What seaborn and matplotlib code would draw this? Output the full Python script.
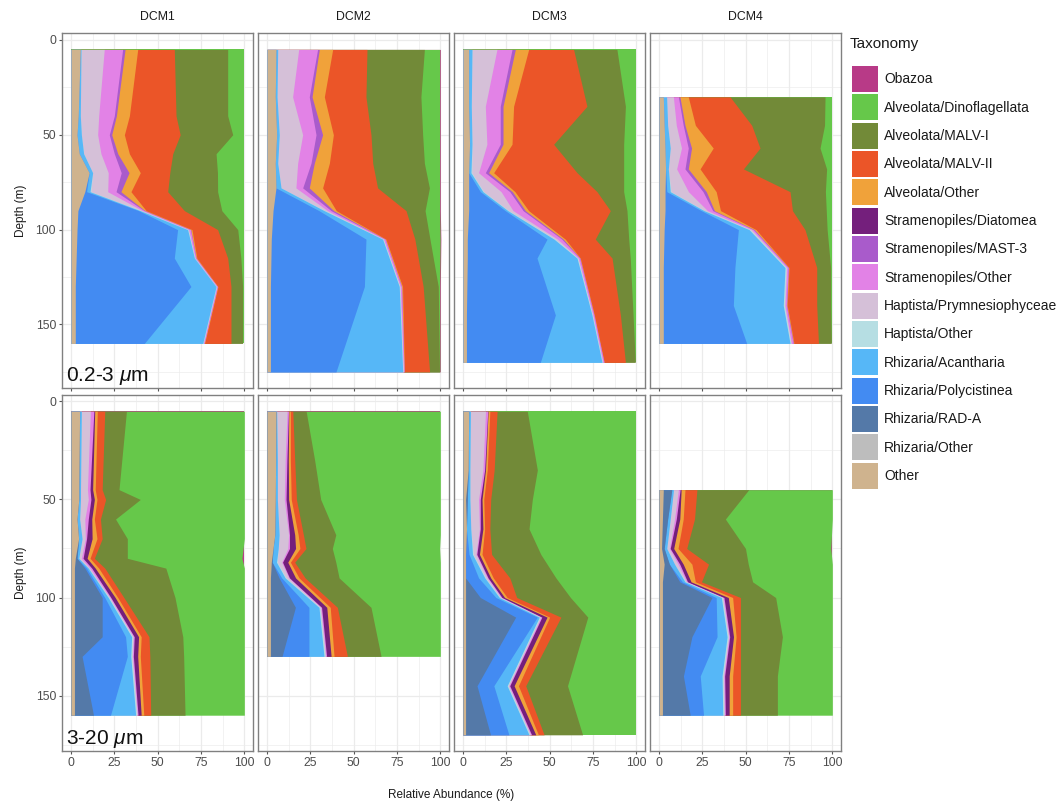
import numpy as np
import matplotlib
matplotlib.use("Agg")
import matplotlib.pyplot as plt
from matplotlib.patches import Patch
import seaborn as sns

# ---------------- data ----------------
taxa = ["Other", "Rhizaria/Other", "Rhizaria/RAD-A", "Rhizaria/Polycistinea",
        "Rhizaria/Acantharia", "Haptista/Other", "Haptista/Prymnesiophyceae",
        "Stramenopiles/Other", "Stramenopiles/MAST-3", "Stramenopiles/Diatomea",
        "Alveolata/Other", "Alveolata/MALV-II", "Alveolata/MALV-I",
        "Alveolata/Dinoflagellata", "Obazoa"]
taxa_colors = ["#CFB38E", "#BDBDBD", "#5479A8", "#438BF2", "#56B7F7", "#B6DEE3",
               "#D5C0D8", "#E282E6", "#A95BCB", "#741F7C", "#F0A23A", "#EB5528",
               "#728A38", "#66C84A", "#B83A87"]
stations = ["DCM1", "DCM2", "DCM3", "DCM4"]
size_labels = ["0.2-3 $\\mu$m", "3-20 $\\mu$m"]

# 0.2-3 um fraction (rows = depths, columns = taxa order above, %)
dcm1_small_depth = [5, 40, 50, 60, 70, 80, 90, 100, 115, 130, 160]
dcm1_small = [
    [5.4, 0, 0, 0, 0.4, 0, 13.4, 10.6, 1.4, 0, 7.3, 21.1, 30.8, 9.2, 0.4],
    [4.2, 0, 0, 0, 1.2, 0, 10.6, 9, 1.2, 0, 7.5, 26.9, 29.8, 9.2, 0.4],
    [3.5, 0, 0, 0, 2.5, 0, 9.4, 6.7, 1.4, 0, 7.3, 32.2, 30.3, 6.3, 0.4],
    [4.8, 0, 0, 0, 2.5, 0, 10, 7.7, 2, 0, 6.7, 25, 25, 15.9, 0.4],
    [10.5, 0, 0, 0, 2, 0, 9, 7.5, 4.5, 0, 6.5, 17, 27.5, 15.1, 0.4],
    [8, 0, 0, 1, 2, 0.5, 9.7, 4.8, 2.8, 0, 5.8, 21.2, 28.8, 15, 0.4],
    [4, 0, 0, 35, 1, 0.5, 0.8, 1, 0.3, 0, 0.8, 22, 21.6, 12.6, 0.4],
    [3.5, 0, 0, 58, 5.8, 0.3, 0.3, 1, 0.2, 0, 0.7, 14.8, 11.6, 3.4, 0.4],
    [3, 0, 0, 56.6, 11.6, 0.2, 0.2, 0.5, 0.1, 0, 0.4, 17.8, 7.6, 1.6, 0.4],
    [2.5, 0, 0, 66.7, 14.5, 0.2, 0.1, 0.5, 0, 0, 0.3, 7.5, 6.7, 0.6, 0.4],
    [2.5, 0, 0, 39.8, 33.7, 0.2, 0.2, 0.4, 0, 0, 0.3, 15.2, 6.7, 0.6, 0.4],
]
dcm2_small_depth = [5, 30, 50, 65, 78, 90, 105, 130, 175]
dcm2_small = [
    [5.2, 0, 0, 0, 1, 0, 12.1, 10.9, 1, 0, 7.7, 19.8, 33.1, 8.8, 0.4],
    [4.8, 0, 0, 0, 1, 0, 9, 9.6, 1.6, 0, 7.1, 24, 31.7, 10.8, 0.4],
    [5.6, 0, 0, 0, 1.5, 0, 13.5, 7.7, 3.8, 0, 6.2, 21.7, 29.8, 9.8, 0.4],
    [4.8, 0, 0, 0, 1.4, 0, 11.5, 7.7, 1.9, 0, 8.7, 25, 29.8, 8.8, 0.4],
    [5.2, 0, 0, 0, 2.9, 0, 8.6, 3.9, 3.8, 0, 7.7, 31.7, 29.9, 5.9, 0.4],
    [3.5, 0, 0, 26.5, 3, 0.5, 1.5, 2, 1.5, 0, 1.5, 40.2, 11, 8.4, 0.4],
    [2.5, 0, 0, 54.6, 9.6, 0.3, 0.3, 0.8, 0.1, 0, 0.4, 16.7, 8.7, 5.9, 0.4],
    [2, 0, 0, 54.2, 20.1, 0.3, 0.3, 0.7, 0.1, 0, 0.5, 11.9, 8.7, 0.8, 0.4],
    [2, 0, 0, 37.8, 38.5, 0.2, 0.2, 0.4, 0, 0, 0.2, 14.5, 5.7, 0.2, 0.3],
]
dcm3_small_depth = [5, 35, 55, 70, 80, 90, 105, 115, 145, 170]
dcm3_small = [
    [3.3, 0, 0, 0, 1.9, 0, 14.4, 8.7, 1.9, 0, 7.7, 25.9, 25, 10.8, 0.4],
    [3.3, 0, 0, 0, 1.5, 0, 8.1, 8.6, 1.6, 0, 6.1, 42.3, 22.2, 5.9, 0.4],
    [3.8, 0, 0, 0, 1.4, 0, 8.6, 7.7, 1.6, 0, 5.2, 24, 40.4, 6.9, 0.4],
    [3.3, 0, 0, 0, 1.3, 0.5, 3.9, 3.9, 1.9, 0, 2.9, 48.1, 26.9, 6.9, 0.4],
    [3.3, 0, 0, 6.7, 1.5, 0.5, 10, 5, 1.5, 0, 1.5, 47.3, 15.4, 6.9, 0.4],
    [3.3, 0, 0, 21.1, 1.5, 0.5, 2.5, 5.8, 1.3, 0, 1.9, 47.1, 9.6, 5, 0.4],
    [2.5, 0, 0, 46, 4, 0.5, 1.5, 2.5, 0.8, 0, 1.2, 17.3, 19.3, 4, 0.4],
    [2.5, 0, 0, 40.2, 23.1, 0.4, 0.3, 0.8, 0.2, 0, 0.2, 18.3, 10.5, 3.1, 0.4],
    [2, 0, 0, 51.3, 21.1, 0.3, 0.2, 0.6, 0.1, 0, 0.2, 15, 7.3, 1.5, 0.4],
    [2, 0, 0, 42.6, 35.6, 0.3, 0.2, 0.6, 0.1, 0, 0.1, 12.2, 5.7, 0.2, 0.4],
]
dcm4_small_depth = [30, 45, 57, 68, 80, 90, 100, 120, 140, 160]
dcm4_small = [
    [2.5, 0, 0, 0, 1.9, 0, 3.9, 2.9, 0.9, 0, 4.8, 24.1, 54.8, 3.8, 0.4],
    [3, 0, 0, 0, 2, 0, 5, 4, 1, 0, 6, 32.5, 42, 4.1, 0.4],
    [3.5, 0, 0, 0, 3, 0, 6.5, 3.9, 1.9, 0, 12.5, 27, 34.6, 6.7, 0.4],
    [3.8, 0, 0, 0, 1.6, 0, 4.8, 4.8, 1.9, 0, 6.8, 25, 48, 2.9, 0.4],
    [3.5, 0, 0, 1, 2, 0.5, 10, 8.4, 1.9, 0, 5.7, 42.6, 20.4, 3.6, 0.4],
    [3.5, 0, 0, 20.9, 1.6, 0.4, 1.6, 3, 1, 0, 3.5, 41.5, 19.5, 3.1, 0.4],
    [3, 0, 0, 42.8, 6.2, 0.5, 1, 1, 0.5, 0, 1, 28.2, 12.8, 2.6, 0.4],
    [2.5, 0, 0, 41.3, 28.9, 0.5, 0.5, 0.8, 0.2, 0, 0.3, 16, 8, 0.6, 0.4],
    [2.5, 0, 0, 40.4, 28.8, 0.5, 0.5, 0.8, 0.2, 0, 0.3, 17, 8, 0.6, 0.4],
    [2.5, 0, 0, 48.1, 25, 0.4, 0.4, 1, 0.2, 0, 0.3, 14.1, 7.4, 0.2, 0.4],
]

# 3-20 um fraction
dcm1_large_depth = [5, 45, 50, 60, 70, 80, 85, 100, 120, 130, 160]
dcm1_large = [
    [5, 0, 0, 0, 1, 0, 5.2, 2, 0, 0.5, 1.5, 4.3, 12.5, 68.0, 0],
    [4.5, 0, 0, 0, 1, 0, 4, 1.5, 0, 1.5, 1.5, 4, 9.7, 72.3, 0],
    [4.5, 0, 0, 0, 1, 0, 4.5, 1.5, 0, 2, 1.5, 5, 20, 60.0, 0],
    [3.5, 0, 0, 0, 1.5, 0, 3, 2, 0, 2, 1.5, 3.5, 8.7, 74.3, 0],
    [4.4, 0, 0, 0, 2, 0, 1.9, 0.7, 0, 3.2, 2.8, 3, 14.5, 67.5, 0],
    [2.5, 0, 1, 0, 1, 0, 1.5, 1, 0, 2.3, 1.7, 2.5, 19, 66.1, 1.4],
    [2, 0, 6, 1, 1, 0, 1, 1, 0, 2, 2, 3.5, 35.2, 45.3, 0],
    [2, 0, 16, 1.5, 2, 0.5, 0.5, 0.5, 0, 2.5, 1.5, 3.5, 29.5, 40.0, 0],
    [2, 0, 16, 13.5, 3.5, 0.5, 0.5, 0.5, 0, 2.5, 1.5, 4.5, 19.5, 35.5, 0],
    [2, 0, 4.4, 26.1, 2, 0.5, 0.5, 0.5, 0, 2.5, 1.5, 5.5, 19.5, 35.0, 0],
    [2, 0, 11, 9.8, 14.5, 0.5, 0.5, 0.4, 0, 1.8, 1.5, 4, 19.8, 34.2, 0],
]
dcm2_large_depth = [5, 30, 50, 68, 75, 82, 90, 105, 130]
dcm2_large = [
    [5.2, 0, 0, 0, 0.4, 0, 6, 0.8, 0, 0.2, 0.9, 1.4, 7.7, 77.4, 0],
    [5, 0, 0, 0, 1, 0, 4.5, 1, 0, 0.8, 1.2, 2.5, 11.5, 72.5, 0],
    [4.8, 0, 0, 0, 1.2, 0, 4, 1, 0, 1.5, 1.5, 3, 14, 69.0, 0],
    [4.5, 0, 0, 0, 2.5, 0, 5.5, 0.5, 0, 3, 2, 3, 18.7, 60.3, 0],
    [3.5, 0, 0, 0, 3, 0, 5.5, 1, 0, 3.5, 2.5, 3.5, 15.2, 61.9, 0.4],
    [2.5, 0, 0.5, 0, 2.5, 0.5, 2.5, 0.5, 0, 3, 1.5, 2.5, 23.7, 60.3, 0],
    [2, 0, 5, 1.5, 2, 0.5, 1.5, 0.5, 0, 3.5, 2, 3.5, 19.6, 58.4, 0],
    [2, 0, 14.4, 7.8, 5.8, 0.5, 0.5, 0.5, 0, 3, 2, 4.1, 19.4, 40.0, 0],
    [2, 0, 6.7, 15.5, 8.7, 0.5, 0.5, 0.5, 0, 2.6, 1.7, 7.7, 19.4, 34.2, 0],
]
dcm3_large_depth = [5, 35, 50, 65, 78, 90, 100, 110, 145, 170]
dcm3_large = [
    [3.3, 0, 0, 0, 1, 0, 8.7, 1.3, 0, 0.2, 1, 4.2, 17.4, 62.9, 0],
    [3, 0, 0, 0, 1, 0, 7.5, 1, 0, 0.5, 1, 4, 24.9, 57.1, 0],
    [1.5, 0, 1, 0, 1.5, 0, 5, 1, 0, 1, 1, 4, 24, 60.0, 0],
    [2, 0, 0, 0, 2.5, 0, 5, 0.5, 0, 1.5, 1, 3, 22.6, 61.9, 0],
    [1.5, 0, 0, 2, 2, 0.5, 1.5, 0.5, 0, 1.5, 1.5, 5.5, 28.4, 55.1, 0],
    [1.5, 0, 0, 7.5, 3.6, 0.4, 1, 0.5, 0, 1.5, 1.5, 9.5, 26.6, 46.4, 0],
    [1.5, 0, 8.5, 9, 2, 0.5, 0.5, 0.5, 0, 1.5, 1.5, 5.5, 31, 38.0, 0],
    [1.5, 0, 28.9, 12.5, 1.1, 0.5, 0.5, 0.5, 0, 3, 1.5, 6.5, 15.5, 28.0, 0],
    [1.5, 0, 6.6, 9.7, 7.7, 0.5, 0.5, 0.5, 0, 2.5, 2.5, 4.2, 24.1, 39.7, 0],
    [1.5, 0, 14.4, 10.6, 11.6, 0.5, 0.5, 0.5, 0, 2.4, 1.5, 3.3, 22.2, 31.0, 0],
]
dcm4_large_depth = [45, 60, 75, 83, 92, 100, 120, 140, 160]
dcm4_large = [
    [2.5, 0, 4.9, 0, 1, 0, 2.8, 1, 0, 0.6, 2.2, 6.9, 29.9, 48.2, 0],
    [2, 0, 3, 0, 1.5, 0, 2.5, 1, 0, 2, 2, 6.5, 17.8, 61.7, 0],
    [1.5, 0, 1.5, 0, 1.5, 0, 1.5, 0.5, 0, 2, 2.5, 5, 33.9, 49.2, 0.9],
    [3, 0, 3, 0, 3, 0, 2, 1, 0, 2, 5, 9.6, 22.9, 48.5, 0],
    [2, 0, 10, 1.5, 1.5, 0.5, 0.5, 0.5, 0, 2, 2.5, 3.5, 29.5, 46.0, 0],
    [2, 0, 28.6, 2.4, 3, 0.5, 0.5, 0.5, 0, 2.5, 2.5, 4.5, 20.3, 32.7, 0],
    [2, 0, 17, 14.5, 5.8, 0.5, 0.5, 0.5, 0, 2.2, 1.5, 2.5, 24.2, 28.8, 0],
    [2, 0, 12.1, 9.7, 12.6, 0.5, 0.5, 0.5, 0, 2.6, 2, 4.5, 21.3, 31.7, 0],
    [2, 0, 16, 7.7, 11.1, 0.5, 0.5, 0.5, 0, 2.2, 2, 4.5, 21.3, 31.7, 0],
]

panels = [
    [(dcm1_small_depth, dcm1_small), (dcm2_small_depth, dcm2_small),
     (dcm3_small_depth, dcm3_small), (dcm4_small_depth, dcm4_small)],
    [(dcm1_large_depth, dcm1_large), (dcm2_large_depth, dcm2_large),
     (dcm3_large_depth, dcm3_large), (dcm4_large_depth, dcm4_large)],
]

# ---------------- style ----------------
sns.set_theme(style="white")
plt.rcParams["font.family"] = ["Liberation Sans", "DejaVu Sans"]
plt.rcParams["mathtext.fontset"] = "custom"
plt.rcParams["mathtext.rm"] = "Liberation Sans"
plt.rcParams["mathtext.it"] = "Liberation Sans:italic"

W, H = 1061, 802
fig = plt.figure(figsize=(W / 100, H / 100), dpi=100)
fig.patch.set_facecolor("white")

panel_w = 190.7
x_lefts = [62.3 + i * 196.0 for i in range(4)]
row_tb = [(33.3, 388.0), (395.0, 751.0)]
row_ylims = [(183.5, -3.5), (178.25, -3.25)]

grid_col = "#EBEBEB"
for r in range(2):
    top, bot = row_tb[r]
    for c in range(4):
        ax = fig.add_axes([x_lefts[c] / W, 1 - bot / H, panel_w / W, (bot - top) / H])
        ax.set_facecolor("white")
        depth, rows = panels[r][c]
        vals = np.array(rows, dtype=float)
        cum = np.cumsum(vals, axis=1)
        zero = np.zeros(len(depth))
        # stacked areas: draw outermost first, each from 0 to its cumulative edge
        for k in range(len(taxa) - 1, -1, -1):
            if np.any(vals[:, k] > 0):
                ax.fill_betweenx(depth, zero, cum[:, k], color=taxa_colors[k],
                                 linewidth=0, zorder=2)
        ax.set_xlim(-5, 105)
        ax.set_ylim(*row_ylims[r])
        ax.set_xticks([0, 25, 50, 75, 100])
        ax.set_xticks([12.5, 37.5, 62.5, 87.5], minor=True)
        ax.set_yticks([0, 50, 100, 150])
        ax.set_yticks([25, 75, 125, 175], minor=True)
        ax.grid(True, which="major", color=grid_col, lw=0.9, zorder=0)
        ax.grid(True, which="minor", color=grid_col, lw=0.45, zorder=0)
        ax.set_axisbelow(True)
        for s in ax.spines.values():
            s.set_color("#808080")
            s.set_linewidth(1.0)
        ax.tick_params(which="major", length=2.5, width=0.8, color="#555555",
                       labelsize=8.8, labelcolor="#4D4D4D", pad=2,
                       bottom=True, left=(c == 0))
        ax.tick_params(which="minor", length=0)
        if r == 0:
            ax.tick_params(labelbottom=False)
        if c != 0:
            ax.tick_params(labelleft=False)
        else:
            ax.set_ylabel("Depth (m)", fontsize=8.5, color="#1A1A1A", labelpad=6)
        if r == 0:
            ax.text(0.5, 1 + 16 / 355, stations[c], transform=ax.transAxes,
                    ha="center", va="center", fontsize=8.8, color="#1A1A1A")
        if c == 0:
            ax.text(0.02, 0.004, size_labels[r], transform=ax.transAxes,
                    ha="left", va="bottom", fontsize=15, color="#111111", zorder=5)

fig.text(451 / W, 1 - 795 / H, "Relative Abundance (%)", ha="center", va="center",
         fontsize=8.5, color="#1A1A1A")

# legend (title drawn separately for ggplot-like spacing)
fig.text(850 / W, 1 - 44 / H, "Taxonomy", ha="left", va="center",
         fontsize=11, color="#1A1A1A")
handles = [Patch(facecolor=taxa_colors[k], edgecolor="none") for k in range(len(taxa))][::-1]
labels = taxa[::-1]
leg = fig.legend(handles, labels, loc="upper left",
                 bbox_to_anchor=(852 / W, 1 - 66 / H), frameon=False,
                 fontsize=10, handlelength=1.87, handleheight=2.5,
                 labelspacing=0.17, handletextpad=0.45, borderpad=0,
                 borderaxespad=0)
for t in leg.get_texts():
    t.set_color("#1A1A1A")

fig.savefig("out.png", dpi=100, facecolor="white")
